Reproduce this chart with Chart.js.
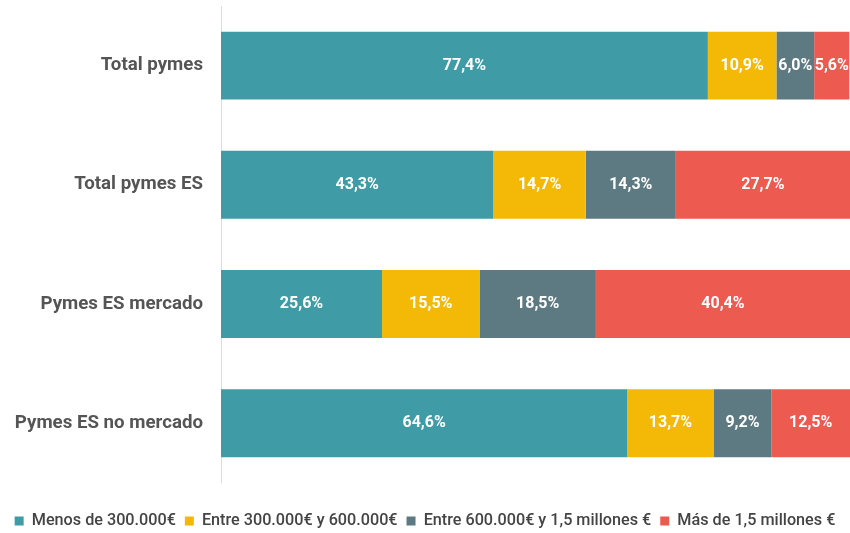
<!DOCTYPE html>
<html>
<head>
<meta charset="utf-8">
<script src="https://cdn.jsdelivr.net/npm/chart.js@4"></script>
<style>
  html, body { margin: 0; padding: 0; background: #fff; }
  #wrap { width: 850px; height: 533px; }
</style>
</head>
<body>
<div id="wrap"><canvas id="chart"></canvas></div>
<script>
// categorias y series (porcentajes)
const categorias = ['Total pymes', 'Total pymes ES', 'Pymes ES mercado', 'Pymes ES no mercado'];
const menos300 = [77.4, 43.3, 25.6, 64.6];
const entre300y600 = [10.9, 14.7, 15.5, 13.7];
const entre600y1500 = [6.0, 14.3, 18.5, 9.2];
const mas1500 = [5.6, 27.7, 40.4, 12.5];

const series = [
  { label: 'Menos de 300.000€', data: menos300, color: '#3f9ca6' },
  { label: 'Entre 300.000€ y 600.000€', data: entre300y600, color: '#f4b907' },
  { label: 'Entre 600.000€ y 1,5 millones €', data: entre600y1500, color: '#5d7a82' },
  { label: 'Más de 1,5 millones €', data: mas1500, color: '#ec5a50' }
];

// etiquetas blancas dentro de cada barra
const etiquetas = {
  id: 'etiquetas',
  afterDatasetsDraw(chart) {
    const ctx = chart.ctx;
    ctx.save();
    ctx.fillStyle = '#fff';
    ctx.font = 'bold 16px Roboto';
    ctx.textAlign = 'center';
    ctx.textBaseline = 'middle';
    chart.data.datasets.forEach((ds, i) => {
      chart.getDatasetMeta(i).data.forEach((bar, j) => {
        const p = bar.getProps(['x', 'y', 'base'], true);
        const txt = ds.data[j].toFixed(1).replace('.', ',') + '%';
        ctx.fillText(txt, (p.x + p.base) / 2, p.y);
      });
    });
    ctx.restore();
  }
};

new Chart(document.getElementById('chart'), {
  type: 'bar',
  data: {
    labels: categorias,
    datasets: series.map(s => ({
      label: s.label,
      data: s.data,
      backgroundColor: s.color,
      borderWidth: 0,
      categoryPercentage: 0.57,
      barPercentage: 1
    }))
  },
  plugins: [etiquetas],
  options: {
    indexAxis: 'y',
    responsive: true,
    maintainAspectRatio: false,
    animation: false,
    layout: { padding: { top: 6, right: 0, left: 0, bottom: -6 } },
    scales: {
      x: {
        stacked: true, min: 0, max: 100,
        grid: { display: false },
        border: { display: false },
        ticks: { display: false },
        afterFit(scale) {
          scale.height = 21;
          scale.paddingLeft = 0;
          scale.paddingRight = 0;
        }
      },
      y: {
        stacked: true,
        grid: { display: false },
        border: { display: true, color: '#dcdcdc', width: 1 },
        ticks: {
          color: '#555',
          font: { family: 'Roboto', size: 18.7, weight: 'bold' },
          padding: 10
        },
        afterFit(scale) {
          scale.width = 221;
          scale.paddingTop = 0;
          scale.paddingBottom = 0;
        }
      }
    },
    plugins: {
      legend: {
        position: 'bottom',
        labels: {
          color: '#444',
          font: { family: 'Roboto', size: 16.2, weight: '500' },
          boxWidth: 9,
          boxHeight: 9,
          padding: 9
        }
      },
      tooltip: { enabled: false }
    }
  }
});
</script>
</body>
</html>
